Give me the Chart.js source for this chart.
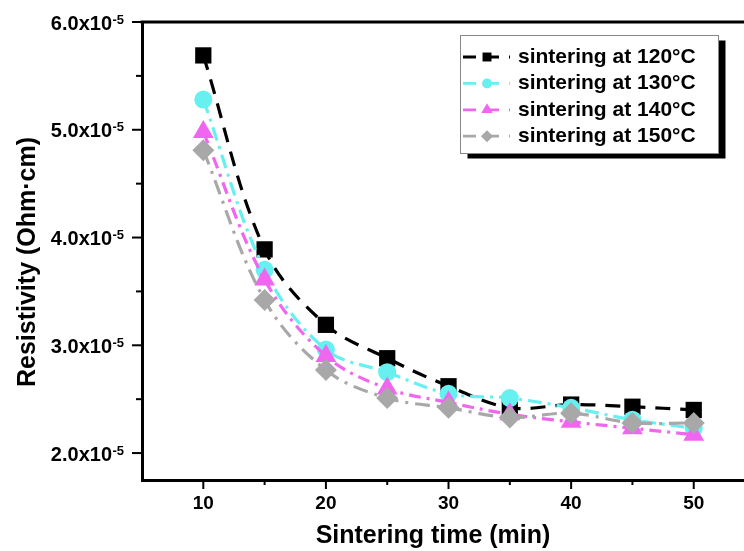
<!DOCTYPE html>
<html>
<head>
<meta charset="utf-8">
<script src="https://cdn.jsdelivr.net/npm/chart.js@4.4.1/dist/chart.umd.min.js"></script>
<style>
  html, body { margin: 0; padding: 0; background: #fff; }
  #wrap { width: 744px; height: 551px; }
</style>
</head>
<body>
<div id="wrap"><canvas id="chart" width="744" height="551"></canvas></div>
<script>
// values (resistivity in Ohm·cm)
const sinteringTime = [10, 15, 20, 25, 30, 35, 40, 45, 50];
const res120 = [5.69e-5, 3.89e-5, 3.19e-5, 2.88e-5, 2.62e-5, 2.42e-5, 2.45e-5, 2.43e-5, 2.40e-5];
const res130 = [5.28e-5, 3.70e-5, 2.96e-5, 2.75e-5, 2.55e-5, 2.51e-5, 2.42e-5, 2.31e-5, 2.23e-5];
const res140 = [4.98e-5, 3.61e-5, 2.90e-5, 2.60e-5, 2.47e-5, 2.36e-5, 2.29e-5, 2.23e-5, 2.17e-5];
const res150 = [4.81e-5, 3.42e-5, 2.77e-5, 2.51e-5, 2.42e-5, 2.33e-5, 2.37e-5, 2.28e-5, 2.28e-5];
const seriesLabels = ['sintering at 120°C', 'sintering at 130°C', 'sintering at 140°C', 'sintering at 150°C'];

const xMajorTicks = [10, 20, 30, 40, 50];
const xMinorTicks = [15, 25, 35, 45];
const yMajorTicks = [2e-5, 3e-5, 4e-5, 5e-5, 6e-5];
const yMinorTicks = [2.5e-5, 3.5e-5, 4.5e-5, 5.5e-5];

const FONT = '"Liberation Sans", Arial, sans-serif';

const toPoints = vals => vals.map((v, i) => ({ x: sinteringTime[i], y: v }));

const makeSeries = (label, vals, color, style, radius, dash, order) => ({
    label, data: toPoints(vals),
    borderColor: color, backgroundColor: color,
    pointBackgroundColor: color, pointBorderWidth: 0,
    pointStyle: style, pointRadius: radius, pointHoverRadius: radius,
    borderWidth: 3.2, borderDash: dash, tension: 0.35,
    legendRadius: radius * 0.55, order
});

const datasets = [
    makeSeries(seriesLabels[0], res120, '#000000', 'rect', 11.5, [15, 10], 4),
    makeSeries(seriesLabels[1], res130, '#66F0F0', 'circle', 9, [14, 6, 3, 6], 3),
    makeSeries(seriesLabels[2], res140, '#F066F0', 'triangle', 12, [12, 6, 3, 6], 2),
    makeSeries(seriesLabels[3], res150, '#A8A8A8', 'rectRot', 11, [15, 7, 3, 7], 1)
];

// ticks, tick labels, titles, top frame and the shadowed legend
const decor = {
    id: 'decor',
    afterDraw(chart) {
        const { ctx, chartArea: a, scales: { x, y } } = chart;
        ctx.save();
        ctx.strokeStyle = '#000';
        ctx.fillStyle = '#000';

        ctx.lineWidth = 3;
        ctx.beginPath(); ctx.moveTo(a.left - 1.5, a.top); ctx.lineTo(a.right, a.top); ctx.stroke();

        ctx.lineWidth = 2;
        const tick = (px, py, dx, dy) => { ctx.beginPath(); ctx.moveTo(px, py); ctx.lineTo(px + dx, py + dy); ctx.stroke(); };
        xMajorTicks.forEach(v => tick(x.getPixelForValue(v), a.bottom, 0, 9));
        xMinorTicks.forEach(v => tick(x.getPixelForValue(v), a.bottom, 0, 5));
        yMajorTicks.forEach(v => tick(a.left, y.getPixelForValue(v), -10, 0));
        yMinorTicks.forEach(v => tick(a.left, y.getPixelForValue(v), -6, 0));

        ctx.font = 'bold 19px ' + FONT;
        ctx.textAlign = 'center';
        ctx.textBaseline = 'middle';
        xMajorTicks.forEach(v => ctx.fillText(String(v), x.getPixelForValue(v), 504));

        yMajorTicks.forEach(v => {
            const py = y.getPixelForValue(v);
            ctx.font = 'bold 20px ' + FONT;
            ctx.textAlign = 'right';
            ctx.textBaseline = 'alphabetic';
            ctx.fillText((v * 1e5).toFixed(1) + 'x10', 112, py + 7.5);
            ctx.font = 'bold 13px ' + FONT;
            ctx.textAlign = 'left';
            ctx.fillText('-5', 112.5, py + 1.5);
        });

        ctx.font = 'bold 25px ' + FONT;
        ctx.textAlign = 'center';
        ctx.textBaseline = 'middle';
        ctx.fillText('Sintering time (min)', 433, 536);
        ctx.save();
        ctx.translate(28, 262);
        ctx.rotate(-Math.PI / 2);
        ctx.fillText('Resistivity (Ohm\u00B7cm)', 0, 0);
        ctx.restore();

        // legend
        const bx = 460.5, by = 35.5, bw = 258, bh = 118;
        ctx.fillStyle = '#000';
        ctx.fillRect(bx + 7, by + 5, bw, bh);
        ctx.fillStyle = '#fff';
        ctx.fillRect(bx, by, bw, bh);
        ctx.lineWidth = 1;
        ctx.strokeStyle = '#888';
        ctx.strokeRect(bx, by, bw, bh);

        chart.data.datasets.forEach((ds, i) => {
            const ry = 57 + i * 26.4;
            ctx.save();
            ctx.strokeStyle = ds.borderColor;
            ctx.lineWidth = 2.8;
            ctx.setLineDash([13, 10]);
            ctx.beginPath(); ctx.moveTo(463, ry); ctx.lineTo(510, ry); ctx.stroke();
            ctx.restore();
            ctx.fillStyle = ds.borderColor;
            Chart.helpers.drawPoint(ctx, { pointStyle: ds.pointStyle, radius: ds.legendRadius, rotation: 0, borderWidth: 0 }, 487, ry);
            ctx.fillStyle = '#000';
            ctx.font = 'bold 21px ' + FONT;
            ctx.textAlign = 'left';
            ctx.textBaseline = 'middle';
            ctx.fillText(ds.label, 518, ry);
        });
        ctx.restore();
    }
};

new Chart(document.getElementById('chart'), {
    type: 'line',
    data: { datasets },
    options: {
        responsive: false,
        animation: false,
        events: [],
        layout: { autoPadding: false, padding: { top: 22, right: 0, left: 0, bottom: 0 } },
        plugins: { legend: { display: false }, tooltip: { enabled: false } },
        scales: {
            x: {
                type: 'linear', min: 5, max: 54.1,
                ticks: { display: false },
                grid: { display: false },
                border: { display: true, width: 3, color: '#000' },
                afterFit: s => { s.height = 71; }
            },
            y: {
                type: 'linear', min: 1.75e-5, max: 6e-5,
                ticks: { display: false },
                grid: { display: false },
                border: { display: true, width: 3, color: '#000' },
                afterFit: s => { s.width = 142; }
            }
        }
    },
    plugins: [decor]
});
</script>
</body>
</html>
